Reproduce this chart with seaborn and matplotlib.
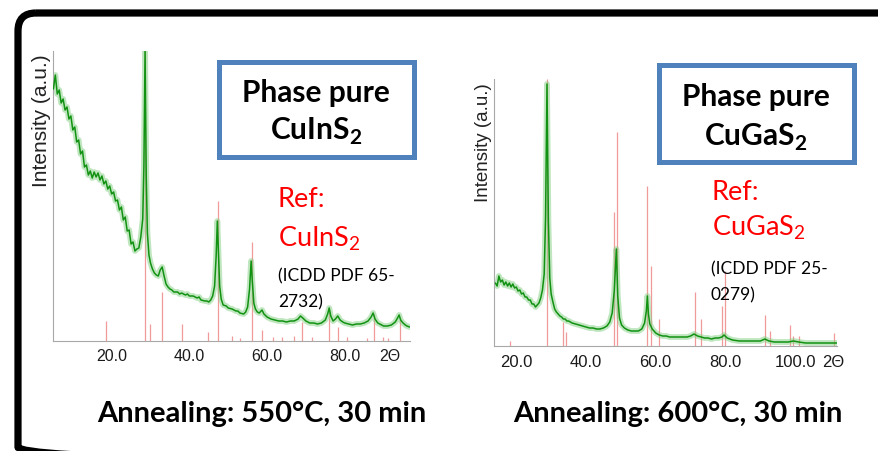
import matplotlib
matplotlib.use('Agg')
import numpy as np
import pandas as pd
import matplotlib.pyplot as plt
from matplotlib.patches import FancyBboxPatch, Rectangle
from matplotlib.transforms import Affine2D
import seaborn as sns

W, H = 879, 452

# ── CuInS2 scan (2Θ in deg, intensity in a.u.) ───────────────
cis_theta = [5.0, 5.5, 6.0, 6.5, 7.0, 7.5, 8.0, 8.5, 9.0, 9.5, 10.0, 10.5, 11.0, 11.5,
             12.0, 12.5, 13.0, 13.5, 14.0, 14.5, 15.0, 15.5, 16.0, 16.5, 17.0, 17.5,
             18.0, 18.5, 19.0, 19.5, 20.0, 20.5, 21.0, 21.5, 22.0, 22.5, 23.0, 23.5,
             24.0, 24.5, 25.0, 25.5, 26.0, 26.5, 27.0, 27.5, 28.0, 28.3, 28.6, 28.9,
             29.2, 29.6, 30.0, 30.5, 31.0, 31.5, 32.0, 32.5, 33.0, 33.5, 34.0, 34.5,
             35.0, 35.5, 36.0, 37.0, 37.5, 38.0, 39.0, 39.5, 40.0, 41.0, 42.0, 42.5,
             43.0, 44.0, 44.5, 45.0, 45.5, 46.0, 46.5, 46.9, 47.2, 47.5, 47.8, 48.2,
             48.7, 49.5, 50.0, 51.0, 52.0, 52.5, 53.0, 54.0, 54.5, 55.0, 55.5, 55.9,
             56.2, 56.6, 57.0, 57.5, 58.0, 58.7, 59.2, 60.0, 61.0, 62.0, 63.0, 64.0,
             65.0, 66.0, 67.0, 68.0, 68.6, 69.2, 70.0, 71.0, 72.0, 73.0, 74.0, 75.0,
             75.6, 76.0, 76.4, 77.0, 77.6, 78.2, 78.8, 79.5, 80.0, 81.0, 82.0, 83.0,
             84.0, 85.0, 86.0, 86.8, 87.3, 87.8, 88.5, 89.5, 90.0, 91.0, 92.0, 93.0,
             93.6, 94.0, 94.4, 95.0, 95.6, 96.0, 96.7]
cis_counts = [252, 266, 247, 251, 238, 242, 231, 234, 222, 225, 211, 214, 199, 201,
              187, 190, 174, 176, 166, 170, 163, 169, 164, 168, 161, 165,
              157, 160, 152, 155, 147, 149, 140, 141, 131, 134, 121, 124,
              110, 111, 97, 99, 90, 92, 93, 104, 122, 175, 290, 165,
              108, 86, 78, 72, 68, 66, 65, 71, 74, 65, 57, 54,
              52, 51, 49, 49, 47, 48, 46, 47, 45, 45, 43, 44,
              41, 40, 40, 39, 41, 45, 55, 85, 120, 88, 55, 42,
              36, 35, 33, 32, 30, 30, 28, 27, 29, 34, 52, 80,
              60, 38, 32, 29, 28, 31, 27, 24, 22, 21, 20, 20,
              19, 20, 20, 22, 25, 23, 20, 18, 18, 17, 18, 21,
              27, 33, 25, 20, 22, 25, 21, 19, 18, 17, 16, 17,
              17, 18, 20, 24, 28, 22, 18, 16, 15, 15, 16, 19,
              23, 26, 21, 18, 16, 15, 14]
# reference pattern ICDD PDF 65-2732
cis_ref_pos = [18.5, 28.6, 29.8, 32.9, 38.1, 44.8, 47.4, 51.0, 53.0, 56.0, 58.7, 61.5,
               63.8, 66.9, 69.0, 71.6, 75.9, 78.3, 80.6, 85.7, 87.5, 89.8, 91.1, 94.2]
cis_ref_int = [20, 290, 17, 49, 17, 9, 140, 5, 3, 99, 11, 4,
               4, 5, 19, 4, 32, 14, 4, 3, 27, 4, 3, 22]

# ── CuGaS2 scan ──────────────────────────────────────────────
cgs_theta = [14.0, 14.5, 15.0, 15.5, 16.0, 16.5, 17.0, 17.5, 18.0, 18.5, 19.0, 19.5,
             20.0, 20.5, 21.0, 21.5, 22.0, 22.5, 23.0, 23.5, 24.0, 24.5, 25.0, 25.5,
             26.0, 26.5, 27.0, 27.5, 28.0, 28.4, 28.8, 29.2, 29.6, 30.0, 30.5, 31.0,
             31.5, 32.0, 32.5, 33.0, 33.5, 34.0, 34.5, 35.0, 36.0, 37.0, 38.0, 39.0,
             40.0, 41.0, 42.0, 43.0, 44.0, 45.0, 46.0, 46.8, 47.5, 48.1, 48.7, 49.1,
             49.6, 50.2, 51.0, 52.0, 53.0, 54.0, 55.0, 56.0, 56.8, 57.3, 57.6, 57.9,
             58.3, 59.0, 60.0, 61.0, 62.0, 63.0, 64.0, 65.0, 66.0, 67.0, 68.0, 69.0,
             70.0, 71.0, 72.0, 73.0, 74.0, 75.0, 76.0, 77.0, 78.0, 79.0, 79.6, 80.5,
             82.0, 84.0, 86.0, 88.0, 90.0, 91.3, 92.5, 94.0, 96.0, 98.0, 99.5, 101.0,
             103.0, 105.0, 107.0, 109.0, 111.0, 112.0]
cgs_counts = [63, 60, 70, 64, 66, 61, 64, 60, 63, 59, 62, 58,
              59, 55, 56, 52, 53, 49, 49, 46, 46, 42, 42, 39,
              41, 43, 48, 56, 72, 130, 262, 125, 68, 52, 44, 37,
              34, 32, 30, 29, 27, 27, 25, 25, 23, 22, 21, 20,
              19, 18, 18, 17, 17, 18, 20, 24, 33, 55, 97, 50,
              28, 21, 18, 16, 15, 15, 15, 17, 23, 35, 50, 32,
              22, 17, 13, 11, 10, 10, 9, 9, 9, 9, 9, 9,
              10, 12, 10, 9, 8, 8, 7, 8, 8, 9, 11, 8,
              6, 5, 5, 5, 5, 7, 5, 4, 4, 4, 5, 4,
              3, 3, 3, 3, 3, 3]
# reference pattern ICDD PDF 25-0279
cgs_ref_pos = [18.2, 28.8, 33.4, 34.3, 48.0, 48.9, 57.5, 58.6, 60.9, 71.2, 72.9, 79.0,
               79.8, 91.3, 92.7, 98.5, 99.3, 101.0, 111.1]
cgs_ref_int = [5, 267, 24, 14, 134, 214, 160, 80, 27, 54, 27, 40,
               75, 31, 15, 21, 10, 10, 13]

cis_ticks = [20, 40, 60, 80, 91.7]
cgs_ticks = [20, 40, 60, 80, 100, 110.8]
cis_labels = ['20.0', '40.0', '60.0', '80.0', '2Θ']
cgs_labels = ['20.0', '40.0', '60.0', '80.0', '100.0', '2Θ']

GREEN = '#129212'
HALO = '#82cf82'
PINK = '#f09a9a'
BLUE = '#4f81bd'

sns.set_style('white')
plt.rcParams['font.family'] = ['Liberation Sans', 'DejaVu Sans']
plt.rcParams['mathtext.fontset'] = 'custom'
plt.rcParams['mathtext.rm'] = 'Lato'
plt.rcParams['mathtext.bf'] = 'Lato:bold'

fig = plt.figure(figsize=(W / 100, H / 100), dpi=100)
fig.patch.set_facecolor('white')
# pixel coordinates, y measured from the top
px = Affine2D().scale(1 / W, -1 / H).translate(0, 1) + fig.transFigure


def xrd_panel(box, theta, counts, ref_pos, ref_int, xlim, top, ticks, labels,
              ytick_step, tick_fs, tick_pad):
    l, t, r, b = box
    ax = fig.add_axes([l / W, 1 - b / H, (r - l) / W, (b - t) / H])
    scan = pd.DataFrame({'two_theta': theta, 'intensity': counts})
    ref = pd.DataFrame({'two_theta': ref_pos, 'intensity': ref_int})

    ax.vlines(ref['two_theta'], 0, ref['intensity'], color=PINK, lw=0.9, zorder=1)
    sns.lineplot(data=scan, x='two_theta', y='intensity', ax=ax, sort=False,
                 estimator=None, color=HALO, lw=4.2, alpha=0.5, zorder=2)
    sns.lineplot(data=scan, x='two_theta', y='intensity', ax=ax, sort=False,
                 estimator=None, color=GREEN, lw=1.1, zorder=3)

    ax.set_xlim(*xlim)
    ax.set_ylim(0, top)
    ax.set_xticks(ticks)
    ax.set_xticklabels(labels, fontsize=tick_fs, color='#1a1a1a')
    ax.set_yticks(np.arange(0, top, ytick_step))
    ax.set_yticklabels([])
    ax.tick_params(axis='x', length=0, pad=tick_pad)
    ax.tick_params(axis='y', length=2.5, width=0.6, color='#b0b0b0', direction='out')
    ax.set_xlabel('')
    ax.set_ylabel('')
    for side in ['top', 'right']:
        ax.spines[side].set_visible(False)
    for side in ['left', 'bottom']:
        ax.spines[side].set_color('#a8a8a8')
        ax.spines[side].set_linewidth(0.8)
    ax.patch.set_alpha(0)
    return ax


xrd_panel((53, 52, 410, 342), cis_theta, cis_counts, cis_ref_pos, cis_ref_int,
          (4.9, 96.8), 290, cis_ticks, cis_labels, 62, 11.5, 5)
xrd_panel((494, 80, 837, 347), cgs_theta, cgs_counts, cgs_ref_pos, cgs_ref_int,
          (13.6, 112.0), 267, cgs_ticks, cgs_labels, 52.6, 12, 5.5)

# outer rounded frame (bottom edge runs just off the picture)
fig.add_artist(FancyBboxPatch((18, 14), 900, 452, boxstyle='round,pad=0,rounding_size=18',
                              transform=px, fill=False, ec='black', lw=5.2, zorder=0))

# axis titles
fig.text(42, 121, 'Intensity (a.u.)', transform=px, rotation=90, ha='center',
         va='center', fontsize=15, color='#222222')
fig.text(484, 143, 'Intensity (a.u.)', transform=px, rotation=90, ha='center',
         va='center', fontsize=13.5, color='#222222')

# "Phase pure" boxes
for x0, y0, x1, y1 in [(219.5, 62.5, 414.5, 157.5), (659.5, 65.5, 854.5, 162.5)]:
    fig.add_artist(Rectangle((x0, y0), x1 - x0, y1 - y0, transform=px, fill=True,
                             fc='white', ec=BLUE, lw=3.6, zorder=5))

bold = dict(transform=px, family='Lato', fontweight='bold', color='black', zorder=6)
fig.text(316, 102, 'Phase pure', ha='center', va='baseline', fontsize=21.5, **bold)
fig.text(316, 140, r'CuInS$_\mathbf{2}$', ha='center', va='baseline', fontsize=21.5, **bold)
fig.text(756, 106, 'Phase pure', ha='center', va='baseline', fontsize=21.5, **bold)
fig.text(756, 146, r'CuGaS$_\mathbf{2}$', ha='center', va='baseline', fontsize=21.5, **bold)

red = dict(transform=px, family='Lato', color='#ff0000', ha='left', va='baseline', fontsize=19.5)
fig.text(278, 207, 'Ref:', **red)
fig.text(278, 247, r'CuInS$_\mathrm{2}$', **red)
fig.text(712, 200, 'Ref:', **red)
fig.text(712, 236, r'CuGaS$_\mathrm{2}$', **red)

note = dict(transform=px, family='Lato', color='black', ha='left', va='baseline', fontsize=12.5)
fig.text(278, 281, '(ICDD PDF 65-', **note)
fig.text(278, 307, '2732)', **note)
fig.text(711, 274, '(ICDD PDF 25-', **note)
fig.text(711, 300, '0279)', **note)

fig.text(262, 422, 'Annealing: 550°C, 30 min', ha='center', va='baseline', fontsize=21, **bold)
fig.text(678, 422, 'Annealing: 600°C, 30 min', ha='center', va='baseline', fontsize=21, **bold)

fig.savefig('out.png', dpi=100, facecolor='white')
